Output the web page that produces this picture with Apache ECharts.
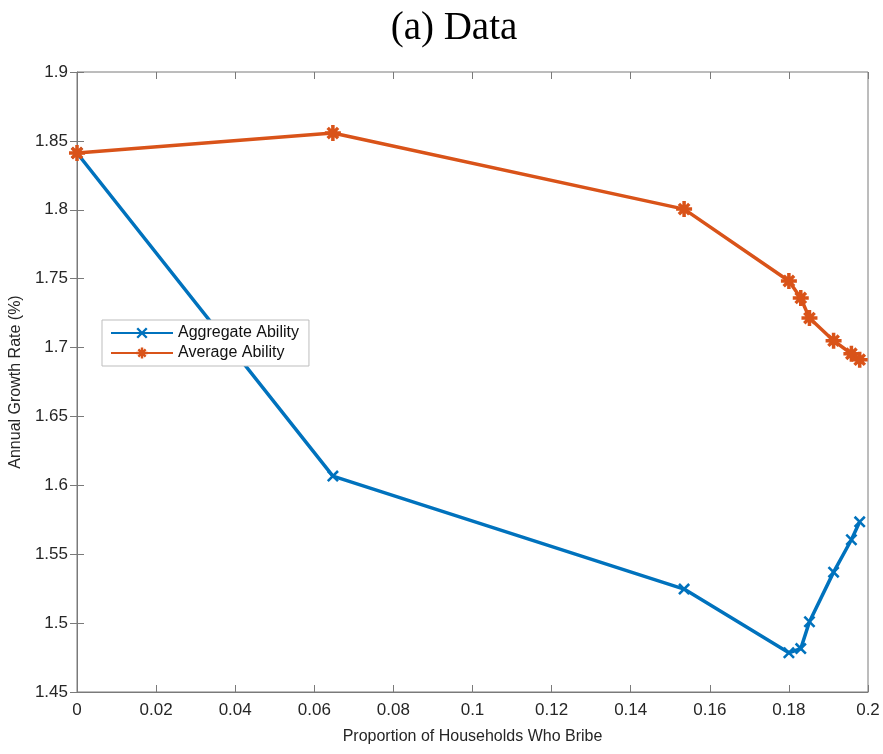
<!DOCTYPE html>
<html>
<head>
<meta charset="utf-8">
<script src="https://cdn.jsdelivr.net/npm/echarts@6/dist/echarts.min.js"></script>
<style>
  html, body { margin: 0; padding: 0; background: #fff; }
  #chart { width: 883px; height: 754px; }
</style>
</head>
<body>
<div id="chart"></div>
<script>
var xTicks = [0, 0.02, 0.04, 0.06, 0.08, 0.1, 0.12, 0.14, 0.16, 0.18, 0.2];
var yTicks = [1.45, 1.5, 1.55, 1.6, 1.65, 1.7, 1.75, 1.8, 1.85, 1.9];

var bribeShare = [0, 0.0647, 0.1535, 0.1800, 0.1830, 0.1852, 0.1913, 0.1958, 0.1979];
var aggregateAbility = [1.8412, 1.6067, 1.5247, 1.4785, 1.4815, 1.5010, 1.5370, 1.5605, 1.5735];
var averageAbility = [1.8412, 1.8557, 1.8005, 1.7483, 1.7360, 1.7214, 1.7050, 1.6955, 1.6912];

var seriesNames = ['Aggregate Ability', 'Average Ability'];

function pairs(xs, ys) {
    var out = [];
    for (var i = 0; i < xs.length; i++) {
        out.push([xs[i], ys[i]]);
    }
    return out;
}

// matlab style markers: 'x' and '*'
var crossMark = 'path://M0,0.15L0.15,0L1,0.85L0.85,1ZM0.85,0L1,0.15L0.15,1L0,0.85Z';
var starMark = 'path://M0.39,0L0.61,0L0.61,1L0.39,1ZM0,0.39L1,0.39L1,0.61L0,0.61Z' +
    'M0.1,0.25L0.25,0.1L0.9,0.75L0.75,0.9ZM0.75,0.1L0.9,0.25L0.25,0.9L0.1,0.75Z';

var font = 'Liberation Sans, Arial, Helvetica, sans-serif';

function hiddenAxis(extra) {
    var a = {
        show: true,
        axisLine: { show: false },
        axisLabel: { show: false },
        axisTick: { show: true, inside: true, length: 7, lineStyle: { color: '#7a7a7a' } },
        splitLine: { show: false }
    };
    for (var k in extra) a[k] = extra[k];
    return a;
}

var option = {
    backgroundColor: '#ffffff',
    animation: false,
    title: {
        text: '(a) Data',
        left: 449,
        top: 4,
        textAlign: 'center',
        textStyle: {
            fontFamily: 'Liberation Serif, Times New Roman, serif',
            fontWeight: 'normal',
            fontSize: 39,
            color: '#000'
        }
    },
    legend: {
        orient: 'vertical',
        left: 102,
        top: 320,
        data: seriesNames,
        backgroundColor: '#fff',
        borderColor: '#bdbdbd',
        borderWidth: 1,
        padding: [5, 10, 5, 8],
        itemGap: 4,
        itemWidth: 62,
        itemHeight: 14,
        textStyle: { fontFamily: font, fontSize: 16, color: '#111' }
    },
    grid: {
        left: 77,
        right: 15,
        top: 72,
        bottom: 62,
        outerBoundsMode: 'none',
        containLabel: false,
        show: true,
        borderColor: '#7a7a7a',
        borderWidth: 1
    },
    xAxis: [{
        type: 'value',
        min: 0,
        max: 0.2,
        interval: 0.02,
        name: 'Proportion of Households Who Bribe',
        nameLocation: 'middle',
        nameGap: 37,
        nameTextStyle: { fontFamily: font, fontSize: 16, color: '#262626' },
        axisLine: { show: true, lineStyle: { color: '#7a7a7a' } },
        axisTick: { inside: true, length: 7, lineStyle: { color: '#7a7a7a' } },
        axisLabel: {
            fontFamily: font, fontSize: 17, color: '#262626', margin: 10,
            formatter: function (v) { return String(+v.toFixed(2)); }
        },
        splitLine: { show: false }
    }, hiddenAxis({ type: 'value', position: 'top', min: 0, max: 0.2, interval: 0.02 })],
    yAxis: [{
        type: 'value',
        min: 1.45,
        max: 1.9,
        interval: 0.05,
        name: 'Annual Growth Rate (%)',
        nameLocation: 'middle',
        nameGap: 51,
        nameTextStyle: { fontFamily: font, fontSize: 16, color: '#262626' },
        axisLine: { show: true, lineStyle: { color: '#7a7a7a' } },
        axisTick: { inside: true, length: 7, lineStyle: { color: '#7a7a7a' } },
        axisLabel: {
            fontFamily: font, fontSize: 17, color: '#262626', margin: 9,
            formatter: function (v) { return String(+v.toFixed(2)); }
        },
        splitLine: { show: false }
    }, hiddenAxis({ type: 'value', position: 'right', min: 1.45, max: 1.9, interval: 0.05 })],
    series: [
        {
            name: seriesNames[0],
            type: 'line',
            data: pairs(bribeShare, aggregateAbility),
            symbol: crossMark,
            symbolSize: 12,
            color: '#0072BD',
            lineStyle: { width: 3.5, color: '#0072BD' },
            itemStyle: { color: '#0072BD' },
            z: 2
        },
        {
            name: seriesNames[1],
            type: 'line',
            data: pairs(bribeShare, averageAbility),
            symbol: starMark,
            symbolSize: 16,
            color: '#D95319',
            lineStyle: { width: 3.5, color: '#D95319' },
            itemStyle: { color: '#D95319' },
            z: 3
        }
    ]
};

var chart = echarts.init(document.getElementById('chart'));
chart.setOption(option);
</script>
</body>
</html>
